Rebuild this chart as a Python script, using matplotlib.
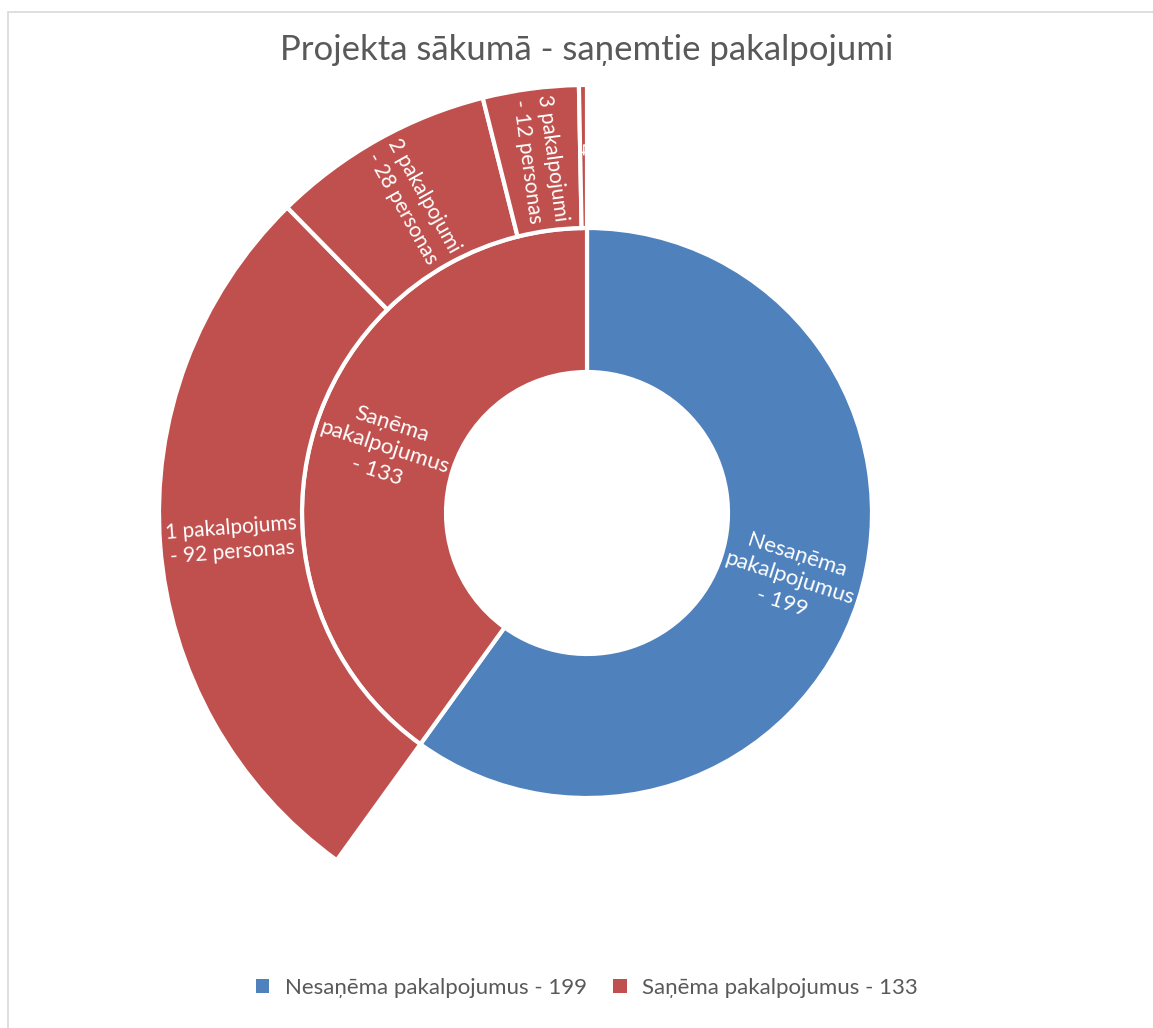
from __future__ import annotations

import matplotlib

matplotlib.use("Agg")
import matplotlib.pyplot as plt
import numpy as np
from matplotlib.patches import Patch, Rectangle


# inner ring: the two top-level groups
groups = ["Nesaņēma pakalpojumus - 199", "Saņēma pakalpojumus - 133"]
group_values = [199, 133]
group_labels = ["Nesaņēma\npakalpojumus\n- 199", "Saņēma\npakalpojumus\n- 133"]

# outer ring: breakdown of the second group (last one = remainder of 133)
sub_labels = [
    "1 pakalpojums\n- 92 personas",
    "2 pakalpojumi\n- 28 personas",
    "3 pakalpojumi\n- 12 personas",
    "4...",
]
sub_values = [92, 28, 12, 1]

BLUE = "#4F81BD"
RED = "#C0504D"
GREY_TEXT = "#595959"

W, H = 1153, 1028
CX, CY = 587, 515
R_HOLE, R_INNER, R_OUTER = 141, 285, 428

plt.rcParams["font.family"] = ["Lato", "DejaVu Sans"]

fig = plt.figure(figsize=(W / 100, H / 100), dpi=100)
ax = fig.add_axes([0, 0, 1, 1])

# thin chart-area border (only top/left edges fall inside the canvas)
fig.patches.append(
    Rectangle((8 / W, -0.2), 1.2, 1.2 - 12 / H, transform=fig.transFigure,
              fill=False, edgecolor="#d9d9d9", linewidth=1.2)
)

edge = dict(edgecolor="white", linewidth=3)

ax.pie(group_values, radius=R_INNER, center=(CX, CY), startangle=90,
       counterclock=False, colors=[BLUE, RED],
       wedgeprops=dict(width=R_INNER - R_HOLE, **edge))

outer_values = [group_values[0]] + sub_values
outer_wedges, _ = ax.pie(outer_values, radius=R_OUTER, center=(CX, CY),
                         startangle=90, counterclock=False,
                         colors=["none"] + [RED] * len(sub_values),
                         wedgeprops=dict(width=R_OUTER - R_INNER, **edge))
outer_wedges[0].set_edgecolor("none")

# pie() resets the limits, so fix the pixel-sized frame afterwards
ax.set_xlim(0, W)
ax.set_ylim(0, H)
ax.set_aspect("equal")
ax.axis("off")


def place_labels(values, labels, radius, offset, fontsize):
    total = sum(outer_values)
    start = offset
    for value, label in zip(values, labels):
        mid = start + value / 2
        theta = 360 * mid / total  # clockwise from 12 o'clock
        rad = np.deg2rad(theta)
        x = CX + radius * np.sin(rad)
        y = CY + radius * np.cos(rad)
        rot = 90 - theta
        if theta > 180:
            rot += 180
        ax.text(x, y, label, rotation=rot, rotation_mode="anchor",
                ha="center", va="center", color="white",
                fontsize=fontsize, linespacing=1.3)
        start += value


place_labels(group_values, group_labels, (R_HOLE + R_INNER) / 2, 0, 16)
place_labels(sub_values, sub_labels, (R_INNER + R_OUTER) / 2,
             group_values[0], 15)

fig.text(CX / W, 1 - 50 / H, "Projekta sākumā - saņemtie pakalpojumi",
         ha="center", va="center", fontsize=25, color=GREY_TEXT)

handles = [Patch(facecolor=c, edgecolor="none") for c in (BLUE, RED)]
fig.legend(handles, groups, loc="center", bbox_to_anchor=(CX / W, 1 - 988 / H),
           ncol=2, frameon=False, fontsize=16, labelcolor=GREY_TEXT,
           handlelength=0.6, handleheight=0.6, handletextpad=0.7,
           columnspacing=1.2)

fig.savefig("out.png", dpi=100)
